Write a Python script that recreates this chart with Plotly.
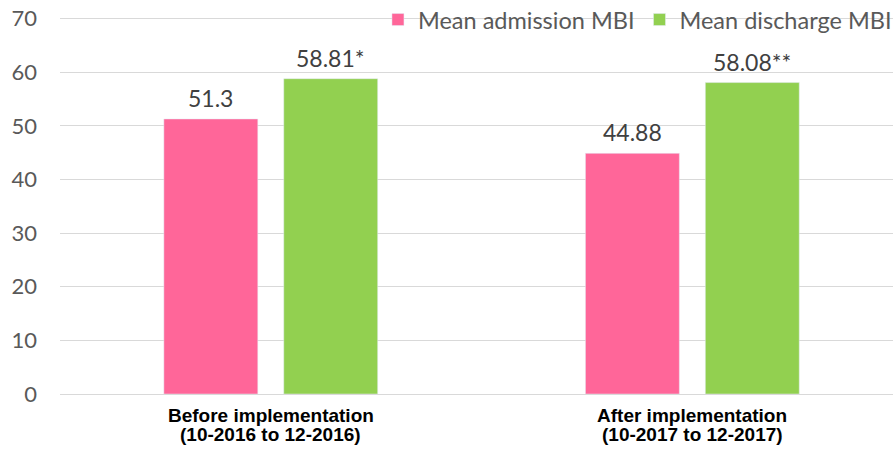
import plotly.graph_objects as go

categories = ["Before implementation", "After implementation"]
periods = ["(10-2016 to 12-2016)", "(10-2017 to 12-2017)"]
admission = [51.3, 44.88]
discharge = [58.81, 58.08]
admission_labels = ["51.3", "44.88"]
discharge_labels = ["58.81*", "58.08**"]

BAR_W = 0.2228
PINK_OFF = -0.2536
GREEN_OFF = 0.0308
label_font = dict(family="Lato", size=23, color="#404040")

fig = go.Figure()
fig.add_trace(go.Bar(
    x=categories, y=admission, name="Mean admission MBI",
    marker_color="#FF6699", width=BAR_W, offset=PINK_OFF,
))
fig.add_trace(go.Bar(
    x=categories, y=discharge, name="Mean discharge MBI",
    marker_color="#92D050", width=BAR_W, offset=GREEN_OFF,
))

for i, (v, t) in enumerate(zip(admission, admission_labels)):
    fig.add_annotation(x=i + PINK_OFF + BAR_W / 2, y=v, text=t, showarrow=False,
                       yanchor="middle", yshift=21, font=label_font)
for i, (v, t) in enumerate(zip(discharge, discharge_labels)):
    fig.add_annotation(x=i + GREEN_OFF + BAR_W / 2, y=v, text=t, showarrow=False,
                       yanchor="middle", yshift=21, font=label_font)

for cat, per in zip(categories, periods):
    fig.add_annotation(x=cat, y=0, xref="x", yref="paper", text="<b>%s</b>" % cat,
                       showarrow=False, yanchor="middle", yshift=-21,
                       font=dict(family="Liberation Sans", size=19, color="black"))
    fig.add_annotation(x=cat, y=0, xref="x", yref="paper", text="<b>%s</b>" % per,
                       showarrow=False, yanchor="middle", yshift=-40,
                       font=dict(family="Liberation Sans", size=19, color="black"))

fig.update_layout(
    width=893, height=451,
    margin=dict(l=60, r=0, t=16, b=57, autoexpand=False),
    plot_bgcolor="white", paper_bgcolor="white",
    barmode="overlay",
    showlegend=True,
    legend=dict(orientation="h", x=0.3817, xanchor="left", y=0.99, yanchor="middle",
                bgcolor="rgba(0,0,0,0)", font=dict(family="Lato", size=23.5, color="#595959"),
                itemwidth=30, traceorder="normal"),
    xaxis=dict(type="category", range=[-0.5, 1.476], showticklabels=False,
               showgrid=False, showline=False, ticks=""),
    yaxis=dict(range=[0, 70.5], tickmode="linear", tick0=0, dtick=10,
               showgrid=True, gridcolor="#D9D9D9", gridwidth=1,
               zeroline=True, zerolinecolor="#D9D9D9", zerolinewidth=1,
               tickfont=dict(family="Lato", size=22, color="#595959"), ticks="",
               ticklabelstandoff=22, ticklabeloverflow="allow"),
)
fig.write_html("out.html", config={"displayModeBar": False},
               post_script="document.body.style.margin='0px';document.body.style.overflow='hidden';")
